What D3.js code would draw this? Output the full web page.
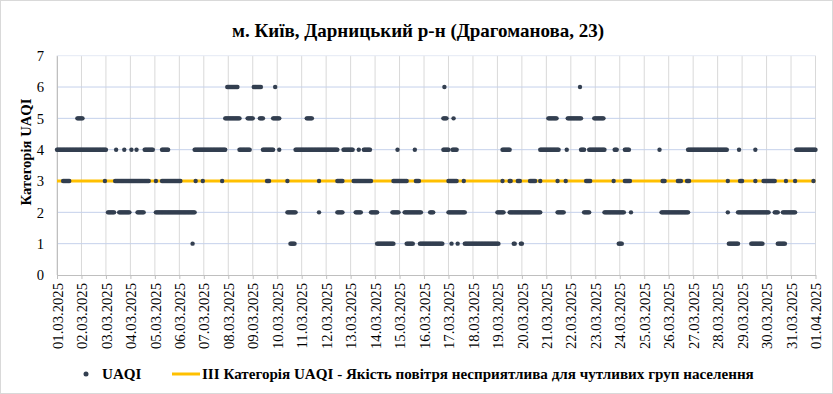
<!DOCTYPE html>
<html>
<head>
<meta charset="utf-8">
<script src="https://cdn.jsdelivr.net/npm/d3@7"></script>
<style>
    body { margin: 0; background: #fff; }
    svg text { font-family: 'Liberation Serif', 'Times New Roman', 'DejaVu Serif', serif; }
</style>
</head>
<body>
<svg id="chart" width="833" height="394"></svg>
<script>
// hour ranges (hours from 01.03.2025 00:00) where each UAQI category was recorded
const cat1 = [[133, 133], [229, 233], [314, 330], [343, 349], [356, 378], [387, 387], [393, 393],
    [400, 433], [448, 449], [455, 456], [551, 554], [659, 668], [681, 692], [707, 714]]
const cat2 = [[50, 56], [61, 71], [79, 85], [97, 135], [226, 234], [257, 257], [275, 280], [293, 298],
    [308, 314], [329, 335], [341, 357], [366, 369], [384, 400], [432, 438], [444, 474], [491, 497],
    [517, 522], [537, 556], [563, 563], [593, 619], [658, 658], [668, 698], [704, 707], [712, 724]]
const cat3 = [[6, 12], [47, 47], [57, 90], [97, 97], [103, 121], [136, 136], [143, 143], [162, 162],
    [206, 208], [226, 226], [257, 257], [275, 280], [291, 308], [330, 343], [352, 355], [384, 392],
    [399, 399], [437, 437], [444, 445], [452, 454], [464, 469], [474, 474], [491, 491], [499, 499],
    [519, 523], [546, 546], [557, 562], [594, 596], [609, 612], [618, 620], [658, 658], [670, 672],
    [685, 685], [693, 704], [715, 715], [724, 724], [742, 742]]
const cat4 = [[0, 48], [58, 58], [66, 66], [73, 73], [78, 78], [86, 94], [103, 109], [135, 165],
    [179, 189], [202, 212], [218, 218], [234, 275], [281, 290], [296, 296], [301, 307], [334, 334],
    [351, 351], [379, 384], [388, 392], [437, 444], [474, 492], [500, 500], [514, 517], [522, 537],
    [547, 549], [557, 561], [591, 591], [619, 657], [669, 669], [685, 685], [725, 744]]
const cat5 = [[20, 25], [165, 179], [187, 192], [199, 202], [212, 218], [245, 250], [379, 382],
    [389, 389], [482, 490], [501, 514], [527, 536]]
const cat6 = [[167, 177], [193, 200], [214, 214], [380, 380], [513, 513]]

const categories = [1, 2, 3, 4, 5, 6]
const runs = [cat1, cat2, cat3, cat4, cat5, cat6]
const yTicks = [0, 1, 2, 3, 4, 5, 6, 7]
const threshold = 3
const startDate = Date.UTC(2025, 2, 1)
const endDate = Date.UTC(2025, 3, 1)

const title = 'м. Київ, Дарницький р-н (Драгоманова, 23)'
const yLabel = 'Категорія UAQI'
const legendDots = 'UAQI'
const legendLine = 'ІІІ Категорія UAQI - Якість повітря несприятлива для чутливих груп населення'

const serif = "'Liberation Serif', 'Times New Roman', 'DejaVu Serif', serif"

// one point per hour inside each recorded range
const points = []
runs.forEach((list, i) => {
    list.forEach(([a, b]) => {
        for (let h = a; h <= b; h++) {
            points.push({ date: new Date(startDate + h * 3600000), value: categories[i] })
        }
    })
})

const svg = d3.select('#chart')
const plotLeft = 57
const plotRight = 815.5
const plotTop = 55.7
const plotBottom = 275

svg.append('rect')
    .attr('x', 0.5).attr('y', 0.5)
    .attr('width', 832).attr('height', 393)
    .attr('fill', '#fff')
    .attr('stroke', '#d9d9d9')

const xScale = d3.scaleUtc()
    .domain([new Date(startDate), new Date(endDate)])
    .range([plotLeft, plotRight])
const yScale = d3.scaleLinear()
    .domain([0, 7])
    .range([plotBottom, plotTop])

const days = d3.utcDay.range(new Date(startDate), new Date(endDate + 1))

// grid
svg.append('g')
    .selectAll('line')
    .data(days)
    .join('line')
    .attr('x1', (d) => xScale(d)).attr('x2', (d) => xScale(d))
    .attr('y1', plotTop).attr('y2', plotBottom)
    .attr('stroke', '#d9d9d9')
svg.append('g')
    .selectAll('line')
    .data(yTicks.slice(1))
    .join('line')
    .attr('x1', plotLeft).attr('x2', plotRight)
    .attr('y1', (d) => yScale(d)).attr('y2', (d) => yScale(d))
    .attr('stroke', (d) => (d === 7 ? '#e4e9f4' : '#c5d1eb'))

// axes
const xAxis = d3.axisBottom(xScale)
    .tickValues(days)
    .tickFormat(d3.utcFormat('%d.%m.%Y'))
    .tickSize(4)
    .tickSizeOuter(0)
const gx = svg.append('g')
    .attr('transform', `translate(0, ${plotBottom})`)
    .call(xAxis)
    .attr('font-family', serif)
    .attr('font-size', 14.67)
gx.select('.domain').attr('stroke', '#bfbfbf')
gx.selectAll('.tick line').attr('stroke', '#bfbfbf')
gx.selectAll('.tick text')
    .attr('transform', 'translate(0, 8) rotate(-90)')
    .attr('x', 0).attr('y', 0).attr('dy', '0.35em')
    .attr('text-anchor', 'end')
    .attr('fill', '#000')

const yAxis = d3.axisLeft(yScale)
    .tickValues(yTicks)
    .tickFormat(d3.format('d'))
    .tickSize(0)
    .tickPadding(13)
const gy = svg.append('g')
    .attr('transform', `translate(${plotLeft}, 0)`)
    .call(yAxis)
    .attr('font-family', serif)
    .attr('font-size', 14.67)
gy.select('.domain').attr('stroke', '#bfbfbf')
gy.selectAll('.tick text').attr('fill', '#000')

// threshold line
svg.append('line')
    .attr('x1', plotLeft).attr('x2', plotRight)
    .attr('y1', yScale(threshold)).attr('y2', yScale(threshold))
    .attr('stroke', '#ffc000')
    .attr('stroke-width', 3)

// points
svg.append('g')
    .selectAll('circle')
    .data(points)
    .join('circle')
    .attr('cx', (d) => xScale(d.date))
    .attr('cy', (d) => yScale(d.value))
    .attr('r', 2.2)
    .attr('fill', '#333f50')

// texts
svg.append('text')
    .attr('x', 418).attr('y', 37)
    .attr('text-anchor', 'middle')
    .attr('font-family', serif)
    .attr('font-size', 19)
    .attr('font-weight', 'bold')
    .text(title)

svg.append('text')
    .attr('transform', 'translate(31, 152) rotate(-90)')
    .attr('text-anchor', 'middle')
    .attr('font-family', serif)
    .attr('font-size', 14.67)
    .attr('font-weight', 'bold')
    .text(yLabel)

const legend = svg.append('g')
    .attr('transform', 'translate(0, 374)')
    .attr('font-family', serif)
    .attr('font-size', 15.1)
    .attr('font-weight', 'bold')
legend.append('circle').attr('cx', 86).attr('cy', 0).attr('r', 2.5).attr('fill', '#333f50')
legend.append('text').attr('x', 102).attr('y', 5).text(legendDots)
legend.append('line')
    .attr('x1', 172).attr('x2', 200).attr('y1', 0).attr('y2', 0)
    .attr('stroke', '#ffc000').attr('stroke-width', 3)
legend.append('text').attr('x', 202).attr('y', 5).text(legendLine)
</script>
</body>
</html>
